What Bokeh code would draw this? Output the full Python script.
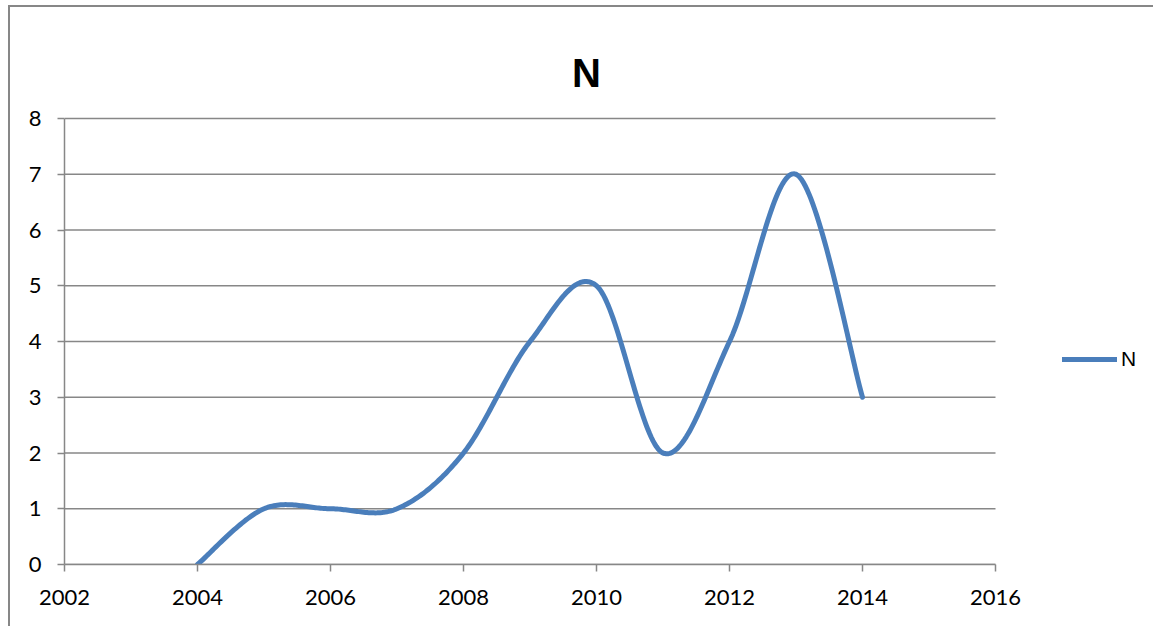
import numpy as np
from bokeh.plotting import figure
from bokeh.models import (Range1d, FixedTicker, Legend, LegendItem, Label,
                          ColumnDataSource)
from bokeh.embed import file_html
from bokeh.resources import INLINE

# ---- data ----
years = [2004, 2005, 2006, 2007, 2008, 2009, 2010, 2011, 2012, 2013, 2014]
counts = [0, 1, 1, 1, 2, 4, 5, 2, 4, 7, 3]
x_ticks = [2002, 2004, 2006, 2008, 2010, 2012, 2014, 2016]
y_ticks = [0, 1, 2, 3, 4, 5, 6, 7, 8]
series_name = "N"
title_text = "N"


def excel_smooth(xs, ys, n=40):
    """Excel-style smoothed line: cubic Bezier with 1/6 tangent control points."""
    P = np.column_stack([np.asarray(xs, float), np.asarray(ys, float)])
    m = len(P)
    outx, outy = [], []
    for i in range(m - 1):
        p_prev = P[i - 1] if i > 0 else P[i]
        p_next2 = P[i + 2] if i + 2 < m else P[i + 1]
        c1 = P[i] + (P[i + 1] - p_prev) / 6.0
        c2 = P[i + 1] - (p_next2 - P[i]) / 6.0
        t = np.linspace(0, 1, n, endpoint=(i == m - 2))
        b = ((1 - t) ** 3)[:, None] * P[i] + (3 * (1 - t) ** 2 * t)[:, None] * c1 \
            + (3 * (1 - t) * t ** 2)[:, None] * c2 + (t ** 3)[:, None] * P[i + 1]
        outx.extend(b[:, 0])
        outy.extend(b[:, 1])
    return outx, outy


sx, sy = excel_smooth(years, counts)
src = ColumnDataSource(dict(x=sx, y=sy))

GRAY = "#878787"
BLUE = "#4A7EBB"
TICK_FONT = "Lato"

# layout (pixels): plot area spans x 64..995 for 2002..2016 and y 564..118 for 0..8;
# the frame is extended to the top and right canvas edges so title/legend are not clipped
W, H = 1153, 626
LEFT, BOTTOM = 64, 62
PLOT_RIGHT_PX, PLOT_TOP_PX = 995, 118
px_per_x = (PLOT_RIGHT_PX - LEFT) / (x_ticks[-1] - x_ticks[0])
px_per_y = (H - BOTTOM - PLOT_TOP_PX) / (y_ticks[-1] - y_ticks[0])
x_end = x_ticks[-1] + (W - PLOT_RIGHT_PX) / px_per_x
y_end = y_ticks[-1] + PLOT_TOP_PX / px_per_y

p = figure(width=W, height=H, output_backend="svg", toolbar_location=None,
           x_range=Range1d(x_ticks[0], x_end), y_range=Range1d(y_ticks[0], y_end),
           min_border_left=LEFT, min_border_right=0,
           min_border_top=0, min_border_bottom=BOTTOM,
           background_fill_color=None, border_fill_color=None)
p.outline_line_color = None
# white page with the outer chart border (left and top edges) behind the canvas
p.styles = {
    "background": ("linear-gradient(#878787,#878787) 8px 5px / 2px 100% no-repeat, "
                   "linear-gradient(#878787,#878787) 8px 5px / 100% 2px no-repeat, white"),
}

# horizontal gridlines, limited to the plot area
p.segment(x0=x_ticks[0], x1=x_ticks[-1], y0=y_ticks, y1=y_ticks,
          line_color=GRAY, line_width=1.5, level="underlay")

r = p.line("x", "y", source=src, line_color=BLUE, line_width=5,
           line_cap="round", line_join="round")

# axes
p.xaxis.ticker = FixedTicker(ticks=x_ticks)
p.yaxis.ticker = FixedTicker(ticks=y_ticks)
p.xaxis.bounds = (x_ticks[0], x_ticks[-1])
p.yaxis.bounds = (y_ticks[0], y_ticks[-1])
for ax in (p.xaxis, p.yaxis):
    ax.axis_line_color = GRAY
    ax.axis_line_width = 1.5
    ax.major_tick_line_color = GRAY
    ax.major_tick_line_width = 1.5
    ax.major_tick_out = 7
    ax.major_tick_in = 0
    ax.minor_tick_line_color = None
    ax.major_label_text_font = TICK_FONT
    ax.major_label_text_font_size = "22px"
    ax.major_label_text_color = "black"
p.xaxis.major_label_standoff = 18
p.yaxis.major_label_standoff = 16

p.xgrid.grid_line_color = None
p.ygrid.grid_line_color = None

# title
p.add_layout(Label(x=522, y=564 - 72, x_units="screen", y_units="screen",
                   text=title_text, text_align="center", text_baseline="alphabetic",
                   text_font="Liberation Sans", text_font_style="bold",
                   text_font_size="40px", text_color="black"))

# legend
legend = Legend(items=[LegendItem(label=series_name, renderers=[r])],
                location=(998, 193), orientation="vertical",
                padding=0, margin=0, spacing=0,
                glyph_width=55, glyph_height=22, label_height=22,
                label_standoff=4, border_line_color=None,
                background_fill_alpha=0,
                label_text_font="Liberation Sans", label_text_font_size="21px",
                label_text_color="black")
p.add_layout(legend)

open("out.html", "w").write(file_html(p, INLINE))
